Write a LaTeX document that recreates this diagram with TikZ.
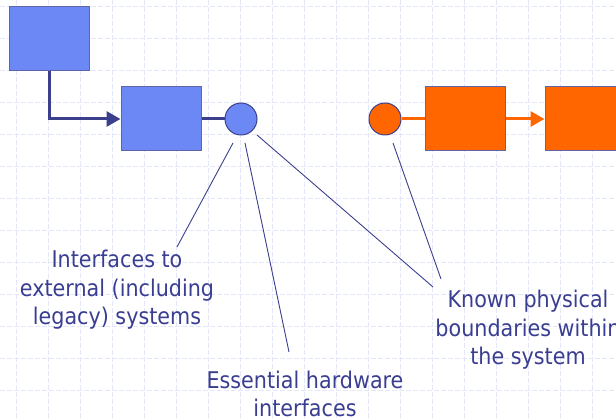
\documentclass[tikz,border=0pt]{standalone}
\usepackage{fontspec}
\setmainfont{DejaVu Sans}[FakeStretch=0.9]
\usetikzlibrary{arrows.meta}

\definecolor{gridline}{RGB}{228,231,250}
\definecolor{bluefill}{RGB}{107,136,245}
\definecolor{navy}{RGB}{60,64,140}
\definecolor{edge}{RGB}{96,100,168}
\definecolor{orangefill}{RGB}{255,102,0}
\definecolor{textcol}{RGB}{58,62,145}

\begin{document}
\begin{tikzpicture}[x=1pt,y=-1pt,
  gridstyle/.style={draw=gridline, line width=0.8pt, dash pattern=on 5pt off 2pt},
  bluebox/.style={draw=edge, line width=1pt, fill=bluefill, minimum width=80pt, minimum height=64pt, inner sep=0pt},
  orangebox/.style={bluebox, fill=orangefill},
  bluedot/.style={circle, draw=navy, line width=1pt, fill=bluefill, minimum size=32pt, inner sep=0pt},
  orangedot/.style={bluedot, fill=orangefill},
  bluelink/.style={draw=navy, line width=3pt},
  orangelink/.style={draw=orangefill, line width=3pt},
  tip/.style={-{Triangle[length=14pt,width=15pt]}},
  leader/.style={draw=navy, line width=0.9pt},
  caption/.style={align=center, text=textcol, inner sep=0pt,
    font=\fontsize{23}{28.5}\selectfont}]
\useasboundingbox (0,0) rectangle (616,419);
\fill[white] (0,0) rectangle (616,419);

% background grid
\begin{scope}
  \clip (0,0) rectangle (616,419);
  \foreach \i in {0,...,18} \draw[gridstyle] ({16.7+32*\i},0) -- ++(0,419);
  \foreach \j in {0,...,13} \draw[gridstyle] (0,{6.7+32*\j}) -- ++(616,0);
\end{scope}

% blocks
\node[bluebox] (b1) at (49,39) {};
\node[bluebox] (b2) at (161,119) {};
\node[bluedot] (c1) at (241,119) {};
\node[orangedot] (c2) at (385,119) {};
\node[orangebox] (o1) at (465,119) {};
\node[orangebox] (o2) at (585,119) {};

% links between blocks
\draw[bluelink, tip] (b1.south) |- (b2.west);
\draw[bluelink] (b2.east) -- (c1.west);
\draw[orangelink] (c2.east) -- (o1.west);
\draw[orangelink, tip] (o1.east) -- (o2.west);

% captions
\node[caption] (t1) at (117,290) {Interfaces to\\external (including\\legacy) systems};
\node[caption] (t2) at (305,394) {Essential hardware\\interfaces};
\node[caption] (t3) at (528,330) {Known physical\\boundaries within\\the system};

% leader lines
\coordinate (p1) at (233,143);
\coordinate (q1) at (177,247);
\coordinate (p2) at (245,143);
\coordinate (q2) at (289,352);
\coordinate (p3) at (257,135);
\coordinate (q3) at (433,287);
\coordinate (p4) at (393,143);
\coordinate (q4) at (441,279);
\draw[leader] (p1) -- (q1);
\draw[leader] (p2) -- (q2);
\draw[leader] (p3) -- (q3);
\draw[leader] (p4) -- (q4);
\end{tikzpicture}
\end{document}
